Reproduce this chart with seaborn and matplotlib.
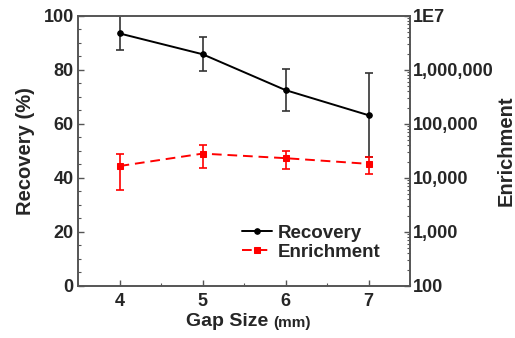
import numpy as np
import pandas as pd
import seaborn as sns
import matplotlib.pyplot as plt
from matplotlib.ticker import FixedLocator, FuncFormatter, LogLocator, NullFormatter

gap = [4, 5, 6, 7]
recovery = [93.5, 85.8, 72.5, 63.2]
recovery_err = [6.3, 6.3, 7.9, 15.5]
enrichment = [16600, 28200, 23200, 18200]
enrichment_err = [10700, 13000, 8300, 6400]

sns.set_style("ticks")
plt.rcParams["font.family"] = ["Liberation Sans", "DejaVu Sans"]
plt.rcParams["font.weight"] = "bold"
plt.rcParams["xtick.direction"] = "in"
plt.rcParams["ytick.direction"] = "in"

df = pd.DataFrame({"gap": gap, "recovery": recovery, "enrichment": enrichment})

fig = plt.figure(figsize=(5.15, 3.38), dpi=100)
ax = fig.add_axes([0.1515, 0.154, 0.645, 0.799])
ax2 = ax.twinx()

# recovery (left axis)
ax.errorbar(gap, recovery, yerr=recovery_err, fmt="none", ecolor="#333333",
            elinewidth=1.2, capsize=3, capthick=1.2)
sns.lineplot(data=df, x="gap", y="recovery", ax=ax, color="black", lw=1.4,
             marker="o", markersize=4, markeredgecolor="black", label="Recovery",
             legend=False)

# enrichment (right axis, log)
ax2.set_yscale("log")
ax2.errorbar(gap, enrichment, yerr=enrichment_err, fmt="none", ecolor="red",
             elinewidth=1.2, capsize=3, capthick=1.2)
sns.lineplot(data=df, x="gap", y="enrichment", ax=ax2, color="red", lw=1.4,
             linestyle=(0, (5, 3)), marker="s", markersize=4,
             markeredgecolor="red", label="Enrichment", legend=False)

ax.set_xlim(3.5, 7.5)
ax.set_ylim(0, 100)
ax.set_xticks(gap)
ax.xaxis.set_minor_locator(FixedLocator([3.5, 4.5, 5.5, 6.5, 7.5]))
ax.set_yticks([0, 20, 40, 60, 80, 100])
ax.yaxis.set_minor_locator(FixedLocator(np.arange(0, 101, 5)))

ax2.set_ylim(100, 1e7)
ax2.set_yticks([1e2, 1e3, 1e4, 1e5, 1e6, 1e7])
ax2.yaxis.set_minor_locator(LogLocator(base=10, subs=np.arange(2, 10), numticks=20))
ax2.yaxis.set_minor_formatter(NullFormatter())
ax2.yaxis.set_major_formatter(
    FuncFormatter(lambda v, p: "1E7" if v >= 1e7 else f"{int(round(v)):,}"))

for a in (ax, ax2):
    a.tick_params(which="major", length=4, width=1, labelsize=13, color="#555555")
    a.tick_params(which="minor", length=2, width=0.8, color="#555555")
    for s in a.spines.values():
        s.set_color("#555555")
        s.set_linewidth(1.2)
    for lab in a.get_xticklabels() + a.get_yticklabels():
        lab.set_fontweight("bold")

ax.tick_params(axis="x", pad=5)
ax.tick_params(axis="y", pad=3)
ax2.tick_params(axis="y", pad=2)
ax.set_ylabel("Recovery (%)", fontsize=14.5, fontweight="bold", labelpad=6)
ax2.set_ylabel("Enrichment", fontsize=14.5, fontweight="bold", labelpad=2)
ax.set_xlabel("Gap Size", fontsize=14, fontweight="bold", labelpad=2)
ax.xaxis.label.set_x(0.45)
ax.annotate("(mm)", xy=(1, 0), xycoords=ax.xaxis.label, xytext=(3, 0),
            textcoords="offset points", fontsize=11, fontweight="bold", va="bottom")

h1, l1 = ax.get_legend_handles_labels()
h2, l2 = ax2.get_legend_handles_labels()
ax2.legend(h1 + h2, l1 + l2, loc="lower right", bbox_to_anchor=(0.96, 0.03),
           frameon=False, handlelength=1.6, handletextpad=0.3, labelspacing=0.1,
           prop={"size": 13.5, "weight": "bold"})

fig.savefig("out.png", dpi=100)
